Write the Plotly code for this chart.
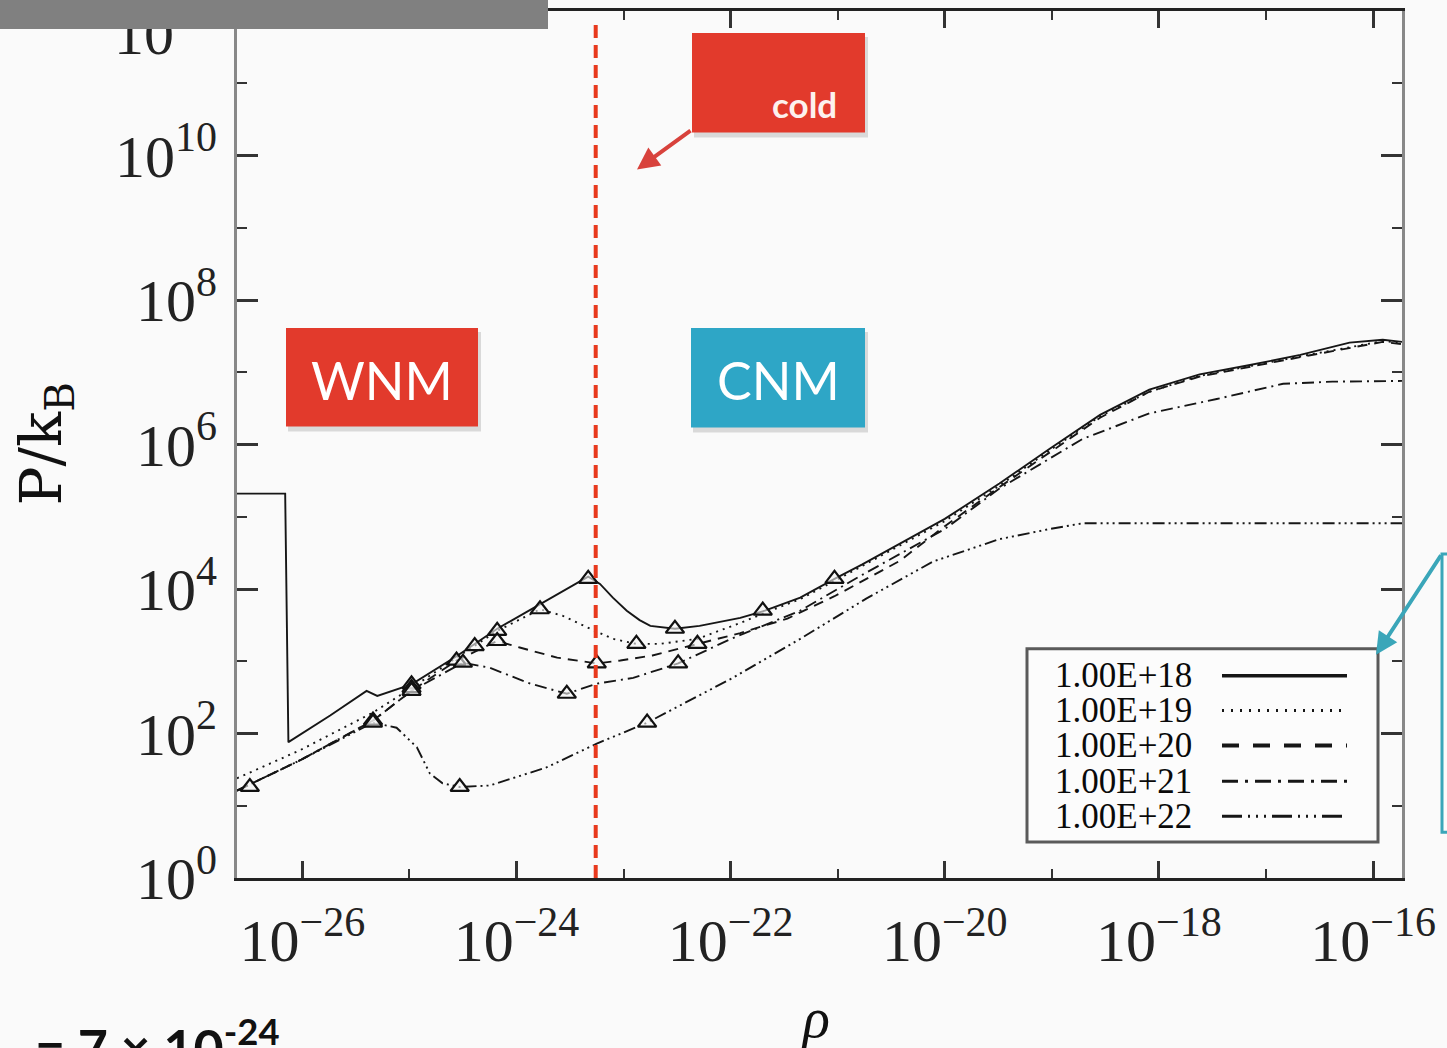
import numpy as np
import plotly.graph_objects as go

# ---------------- data (log10 values) ----------------
s18_logrho = [-26.61, -26.16, -26.13, -25.74, -25.40, -25.30, -24.98, -24.56, -24.18, -23.78,
              -23.33, -23.22, -23.10, -22.97, -22.85, -22.75, -22.52, -22.29, -21.91, -21.68,
              -21.35, -21.03, -20.77, -20.00, -19.49, -19.02, -18.55, -18.09, -17.62, -17.15,
              -16.68, -16.22, -15.91, -15.73]
s18_logP = [5.32, 5.32, 1.88, 2.25, 2.59, 2.52, 2.68, 3.07, 3.45, 3.79,
            4.17, 4.07, 3.88, 3.70, 3.57, 3.49, 3.45, 3.49, 3.60, 3.70,
            3.88, 4.14, 4.34, 4.97, 5.46, 5.94, 6.41, 6.76, 6.97, 7.10,
            7.24, 7.41, 7.45, 7.42]

s19_logrho = [-26.61, -26.02, -25.34, -24.98, -24.56, -24.18, -23.78, -23.57, -23.31, -23.10,
              -22.88, -22.66, -22.31, -21.91, -21.68, -21.35, -21.03, -20.00, -19.49, -19.02,
              -18.55, -18.09, -17.62, -16.68, -15.91, -15.73]
s19_logP = [1.38, 1.77, 2.29, 2.63, 3.05, 3.42, 3.72, 3.63, 3.45, 3.31,
            3.24, 3.24, 3.31, 3.53, 3.67, 3.86, 4.11, 4.94, 5.43, 5.92,
            6.39, 6.73, 6.95, 7.22, 7.43, 7.41]

s20_logrho = [-26.61, -26.02, -25.34, -24.98, -24.56, -24.18, -23.97, -23.62, -23.25, -23.03,
              -22.73, -22.31, -21.91, -21.47, -21.03, -20.42, -20.00, -19.49, -19.02, -18.55,
              -18.09, -17.62, -16.68, -15.91, -15.73]
s20_logP = [1.21, 1.63, 2.18, 2.59, 3.01, 3.28, 3.19, 3.05, 2.97, 3.01,
            3.08, 3.24, 3.39, 3.59, 3.90, 4.39, 4.87, 5.41, 5.89, 6.37,
            6.73, 6.94, 7.21, 7.42, 7.39]

s21_logrho = [-26.61, -26.02, -25.34, -24.98, -24.50, -24.25, -23.87, -23.53, -23.25, -22.91,
              -22.49, -21.98, -21.35, -20.79, -20.00, -19.49, -18.71, -18.09, -17.46, -16.84,
              -16.38, -15.73]
s21_logP = [1.21, 1.63, 2.18, 2.59, 2.98, 2.91, 2.69, 2.55, 2.69, 2.77,
            2.97, 3.32, 3.70, 4.18, 4.83, 5.39, 6.08, 6.43, 6.63, 6.84,
            6.87, 6.88]

s22_logrho = [-26.61, -26.02, -25.34, -25.12, -24.93, -24.81, -24.69, -24.53, -24.25, -23.72,
              -23.25, -22.78, -21.98, -21.35, -20.73, -20.11, -19.49, -19.02, -18.71, -17.00,
              -15.73]
s22_logP = [1.21, 1.63, 2.15, 2.08, 1.81, 1.45, 1.31, 1.26, 1.28, 1.53,
            1.86, 2.15, 2.77, 3.31, 3.87, 4.38, 4.69, 4.83, 4.91, 4.91,
            4.91]

# triangle markers on each curve
m18_logrho = [-24.98, -23.33, -22.52, -21.70, -21.03]
m18_logP = [2.68, 4.14, 3.45, 3.70, 4.14]
m19_logrho = [-24.98, -24.39, -24.18, -23.78, -22.88]
m19_logP = [2.63, 3.21, 3.42, 3.72, 3.24]
m20_logrho = [-25.34, -24.56, -24.18, -23.25, -22.31]
m20_logP = [2.18, 3.01, 3.28, 2.97, 3.24]
m21_logrho = [-24.98, -24.50, -23.53, -22.49]
m21_logP = [2.59, 2.98, 2.55, 2.97]
m22_logrho = [-26.49, -25.34, -24.53, -22.78]
m22_logP = [1.26, 2.15, 1.26, 2.15]

series_names = ["1.00E+18", "1.00E+19", "1.00E+20", "1.00E+21", "1.00E+22"]
series_dash = ["solid", "2px,5px", "10px,7px", "12px,5px,2px,5px",
               "12px,4px,2px,4px,2px,4px,2px,4px"]
legend_dash = ["solid", "2px,7px", "17px,14px", "16px,7px,3px,7px",
               "20px,6px,2px,6px,2px,6px,2px,6px"]
legend_width = [3.5, 3, 4, 3, 3]

rho_cold_log = -23.26      # red dashed threshold
P_top_log = 11.86

x_ticks_log = [-26, -24, -22, -20, -18, -16]
x_minor_log = [-25, -23, -21, -19, -17]
y_ticks_log = [0, 2, 4, 6, 8, 10]
y_minor_log = [1, 3, 5, 7, 9, 11]
y_top_label = "10<sup>12</sup>"

# ---------------- layout geometry ----------------
W, H = 1447, 1048
L, R, T, B = 237, 1402, 8, 878


def X(p):
    return (p - L) / (R - L)


def Y(p):
    return (B - p) / (B - T)


fig = go.Figure()
curves = [(s18_logrho, s18_logP), (s19_logrho, s19_logP), (s20_logrho, s20_logP),
          (s21_logrho, s21_logP), (s22_logrho, s22_logP)]
marks = [(m18_logrho, m18_logP), (m19_logrho, m19_logP), (m20_logrho, m20_logP),
         (m21_logrho, m21_logP), (m22_logrho, m22_logP)]

for (lx, ly), name, dash in zip(curves, series_names, series_dash):
    fig.add_trace(go.Scatter(x=10 ** np.array(lx), y=10 ** np.array(ly), mode="lines",
                             name=name, line=dict(color="#161616", width=1.9, dash=dash),
                             showlegend=False))
for (lx, ly), name in zip(marks, series_names):
    fig.add_trace(go.Scatter(x=10 ** np.array(lx), y=10 ** np.array(ly), mode="markers",
                             name=name, showlegend=False,
                             marker=dict(symbol="triangle-up", size=16, color="rgba(245,245,245,0.6)",
                                         line=dict(color="#111", width=2.2))))

fig.add_trace(go.Scatter(x=[10 ** rho_cold_log] * 2, y=[1, 10 ** P_top_log], mode="lines",
                         showlegend=False, line=dict(color="#e8391d", width=4, dash="13px,7px")))

shapes = []
annotations = []


def rect(x0, y0, x1, y1, fill, line=None, lw=0):
    shapes.append(dict(type="rect", xref="paper", yref="paper", x0=X(x0), x1=X(x1),
                       y0=Y(y1), y1=Y(y0), fillcolor=fill,
                       line=dict(color=line or fill, width=lw), layer="above"))


def text(xp, yp, s, size, color, family, xanchor="center", yanchor="middle", angle=0):
    annotations.append(dict(x=X(xp), y=Y(yp), xref="paper", yref="paper", text=s, showarrow=False,
                            xanchor=xanchor, yanchor=yanchor, textangle=angle,
                            font=dict(size=size, color=color, family=family)))


# boxes with soft shadows
for (x0, y0, x1, y1, col) in [(286, 326, 478, 425, "#e23a2c"), (691, 326, 865, 426, "#2ea6c6"),
                              (692, 30, 865, 130, "#e23a2c")]:
    rect(x0 + 2, y0 + 4, x1 + 3, y1 + 5, "rgba(0,0,0,0.13)")
    rect(x0, y0, x1, y1, col)

text(382, 378, "WNM", 52, "white", "Lato")
text(778, 378, "CNM", 52, "white", "Lato")
text(804, 101, "<b>cold</b>", 35, "#fdf1ee", "Lato")

# cold arrow
annotations.append(dict(x=X(637), y=Y(167), xref="paper", yref="paper", text="", showarrow=True,
                        ax=55, ay=-40, arrowhead=2, arrowsize=1.1, arrowwidth=4,
                        arrowcolor="#d8423c", standoff=0))

# teal callout at right edge
rect(1442, 553, 1470, 832, "#fbfbfb", "#3aa6b9", 3)
annotations.append(dict(x=X(1376), y=Y(654), xref="paper", yref="paper", text="", showarrow=True,
                        ax=66, ay=-101, arrowhead=2, arrowsize=1.1, arrowwidth=4,
                        arrowcolor="#3aa6b9", standoff=0))

# manual legend (text left, line sample right)
rect(1027, 648, 1378, 842, "#fcfcfc", "#5a5a5a", 3)
rows = [675, 710, 745, 781, 816]
for yrow, name, dash, lw in zip(rows, series_names, legend_dash, legend_width):
    text(1053, yrow, name, 35, "#0a0a0a", "Liberation Serif", xanchor="left")
    shapes.append(dict(type="line", xref="paper", yref="paper", x0=X(1222), x1=X(1347),
                       y0=Y(yrow), y1=Y(yrow), layer="above",
                       line=dict(color="#161616", width=lw, dash=dash)))

# axis titles and stray slide text
text(45, 442, "P/k<sub>B</sub>", 58, "#111", "DejaVu Serif", angle=-90)
text(815, 1018, "<i>ρ</i>", 56, "#111", "Liberation Serif")
text(33, 1007, "<b>= 7 × 10<sup>-24</sup></b>", 52, "#111", "Lato", xanchor="left", yanchor="top")

# top tick label (partly hidden by the grey bar)
text(218, 27, y_top_label, 60, "#222", "Liberation Serif", xanchor="right")
# grey bar at top-left drawn last so it covers the label
annotations.append(dict(x=0, y=Y(-3), xref="paper", yref="paper", text=" ", showarrow=False,
                        xanchor="left", yanchor="top", width=548, height=29, bgcolor="#808080",
                        borderpad=0, borderwidth=0, xshift=-L))

fig.update_layout(
    width=W, height=H,
    margin=dict(l=L, r=W - R, t=T, b=H - B),
    paper_bgcolor="#fafafa", plot_bgcolor="#fafafa",
    showlegend=False,
    shapes=shapes, annotations=annotations,
)

tickfont = dict(family="Liberation Serif", size=60, color="#222")
fig.update_xaxes(type="log", range=[-26.61, -15.73],
                 tickvals=[10.0 ** v for v in x_ticks_log],
                 ticktext=["10<sup>−%d</sup>" % (-v) for v in x_ticks_log],
                 ticks="inside", ticklen=17, tickwidth=2.5, tickcolor="#333",
                 minor=dict(tickvals=[10.0 ** v for v in x_minor_log], ticks="inside",
                            ticklen=9, tickwidth=2, tickcolor="#333"),
                 showline=True, linecolor="#222", linewidth=3, mirror="allticks",
                 showgrid=False, zeroline=False, tickfont=tickfont, ticklabelstandoff=8)
fig.update_yaxes(type="log", range=[0, 12],
                 tickvals=[10.0 ** v for v in y_ticks_log],
                 ticktext=["10<sup>%d</sup>" % v for v in y_ticks_log],
                 ticks="inside", ticklen=21, tickwidth=2.5, tickcolor="#333",
                 minor=dict(tickvals=[10.0 ** v for v in y_minor_log + [12]], ticks="inside",
                            ticklen=10, tickwidth=2, tickcolor="#333"),
                 showline=True, linecolor="#888", linewidth=3, mirror="allticks",
                 showgrid=False, zeroline=False, tickfont=tickfont, ticklabelstandoff=5)

fig.write_html("out.html")
